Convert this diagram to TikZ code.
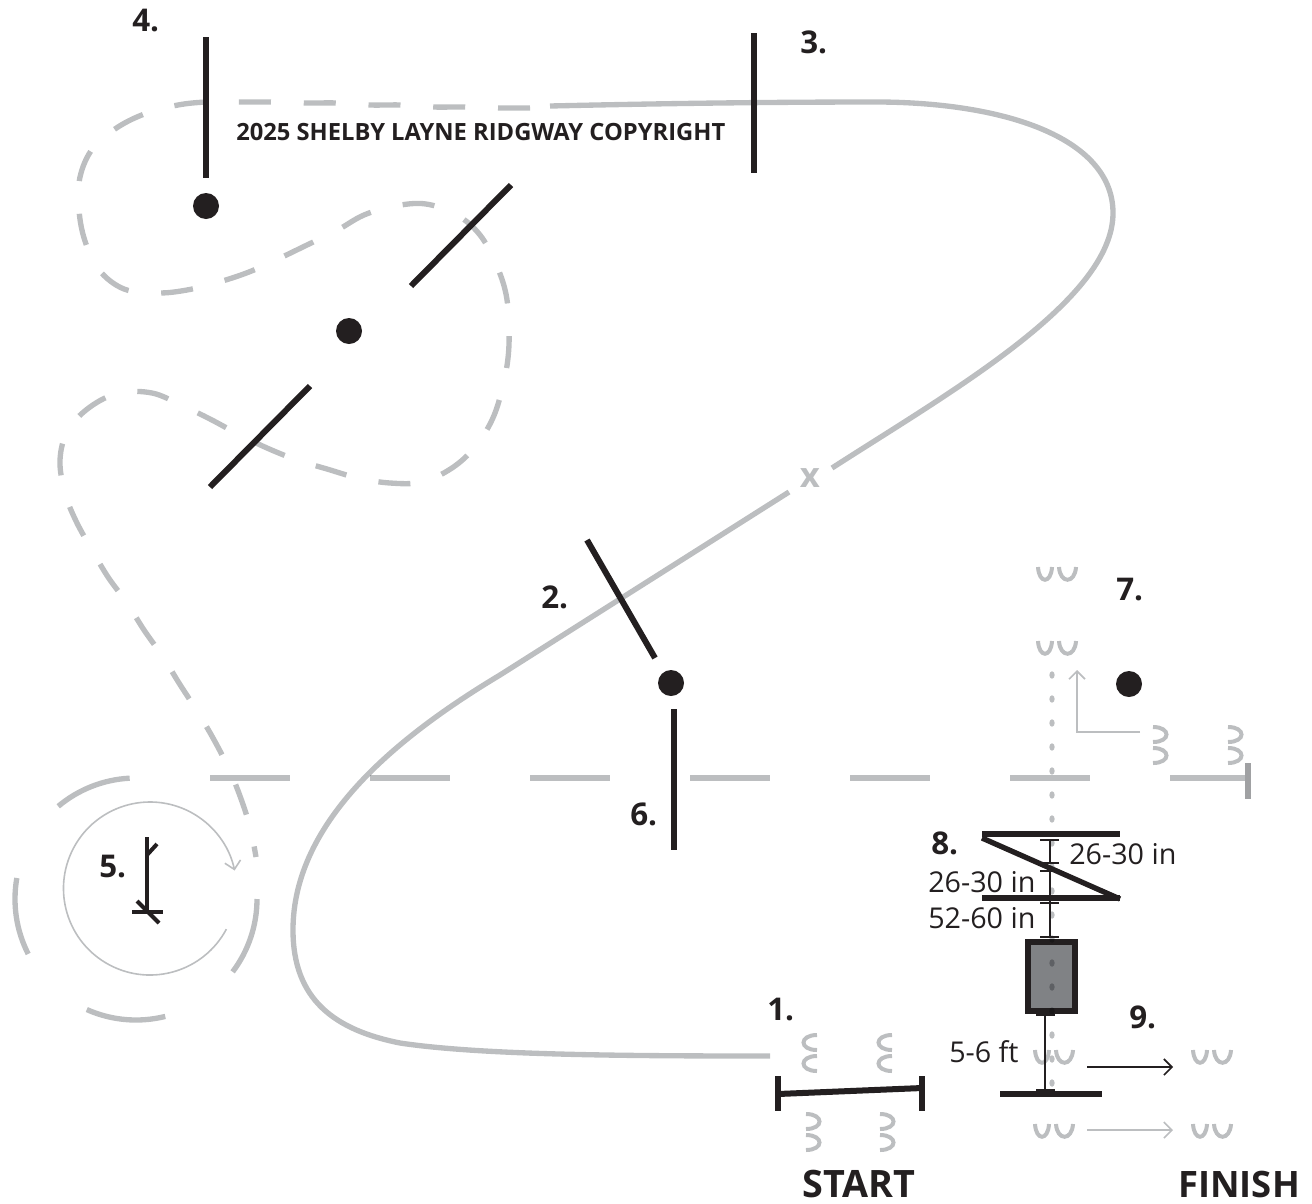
\documentclass[tikz,border=0pt]{standalone}
\usepackage{fontspec}
\setmainfont{Open Sans}
\usetikzlibrary{arrows.meta}
\definecolor{ink}{HTML}{231F20}
\definecolor{pale}{HTML}{BCBEC0}
\definecolor{boxgrey}{HTML}{808285}
\newcommand{\pxarc}[5][]{\draw[#1] ({#2+#4*cos(#5)},{#3-#4*sin(#5)})}
\tikzset{
  x=0.75pt,y=-0.75pt,
  pale line/.style={draw=pale,line width=4pt,blend mode=multiply},
  course/.style={pale line,dash pattern=on 24pt off 24.6pt},
  mark line/.style={draw=pale,line width=3pt},
  ink line/.style={draw=ink,line width=4.5pt},
  dim line/.style={draw=ink,line width=1.5pt},
  thin pale/.style={draw=pale,line width=1.2pt},
  dot/.style={circle,fill=ink,inner sep=0pt,minimum size=19.5pt},
  num/.style={font=\fontsize{23.5}{26}\selectfont\bfseries,text=ink,inner sep=0pt,anchor=base west},
  big/.style={font=\fontsize{28.3}{30}\selectfont\bfseries,text=ink,inner sep=0pt,anchor=base west},
  dimtext/.style={font=\fontsize{21.5}{24}\selectfont,text=ink,inner sep=0pt,anchor=base west},
  copy/.style={font=\fontsize{17.8}{20}\selectfont\bfseries,text=ink,inner sep=0pt,anchor=base west},
  barb/.style={-{Straight Barb[length=6pt,width=12pt,line width=1.2pt]}},
}
\newcommand{\uu}[2]{\draw[mark line] (#1,#2) .. controls (#1+1,#2+17) and (#1+13,#2+17) .. (#1+14,#2);
  \draw[mark line] (#1+21,#2) .. controls (#1+22,#2+17) and (#1+37,#2+17) .. (#1+38,#2);}
\newcommand{\cc}[2]{\draw[mark line] (#1+14,#2+1) .. controls (#1-4,#2+1) and (#1-4,#2+16) .. (#1+14,#2+16);
  \draw[mark line] (#1+14,#2+22) .. controls (#1-4,#2+22) and (#1-4,#2+37) .. (#1+14,#2+37);}
\newcommand{\dd}[2]{\draw[mark line] (#1,#2+1) .. controls (#1+18,#2+1) and (#1+18,#2+16) .. (#1,#2+16);
  \draw[mark line] (#1,#2+22) .. controls (#1+18,#2+22) and (#1+18,#2+37) .. (#1,#2+37);}
\begin{document}
\begin{tikzpicture}
\useasboundingbox (0,0) rectangle (1312,1203);
% centre-line dashes
\draw[pale line,dash pattern=on 60pt off 60pt] (210,778) -- (1248,778);
\draw[draw=pale!85!black,line width=4.5pt] (1248,763) -- (1248,799);
% solid part of the course
\draw[pale line] (770,1056) .. controls (620,1056) and (480,1055) .. (400,1043)
  .. controls (335,1030) and (293,1000) .. (293,930)
  .. controls (293,820) and (400,735) .. (500,675) -- (789,492);
\draw[pale line] (832,468) .. controls (950,392) and (1113,300) .. (1113,213)
  .. controls (1113,140) and (1010,103) .. (880,102)
  .. controls (750,102) and (640,104) .. (550,106);
% dashed part
\draw[course] plot[smooth,tension=0.6] coordinates {(530,108) (498,108) (465,107) (433,107) (402,105) (370,105) (337,103) (306,103) (273,102) (242,102) (207,102) (178,105) (147,113) (118,127) (93,148) (80,177) (79,210) (85,241) (99,270) (124,289) (157,293) (187,290) (219,282) (249,272) (278,259) (307,245) (336,231) (364,215) (395,206) (426,204) (457,215) (480,235) (496,264) (506,294) (509,327) (508,358) (502,390) (492,420) (475,447) (452,468) (422,482) (390,483) (358,478) (327,469) (297,460) (267,448) (238,434) (210,419) (181,405) (152,393) (119,393) (90,407) (68,430) (60,460) (65,493) (76,521) (92,550) (108,577) (127,603) (144,630) (163,657) (179,683) (197,711) (213,738) (228,767) (240,796) (250,827) (256,857)};
% x in the course
\node[text=pale,inner sep=0pt,font=\fontsize{26}{28}\selectfont\bfseries] (xmark) at (810,478) {x};
% circle with outer dashed arcs
\pxarc[pale line]{136}{899}{121}{93} arc[start angle=93,end angle=130,radius=90.75pt];
\pxarc[pale line]{136}{899}{121}{170} arc[start angle=170,end angle=207,radius=90.75pt];
\pxarc[pale line]{136}{899}{121}{246} arc[start angle=246,end angle=284,radius=90.75pt];
\pxarc[pale line]{136}{899}{121}{323} arc[start angle=323,end angle=360,radius=90.75pt];
\pxarc[thin pale,barb]{150}{888.5}{86.5}{-28} arc[start angle=-28,end angle=-348,radius=64.875pt];
% 5 figure
\draw[ink line,line width=3pt] (147,837) -- (147,912);
\draw[ink line,line width=3pt] (147,855) -- (157,844);
\draw[ink line,line width=3pt] (132,912) -- (163,912);
\draw[ink line,line width=3pt] (137,901) -- (159,923);
% hoof marks
\uu{1038}{567} \uu{1038}{641}
\uu{1035}{1050} \uu{1193}{1050}
\uu{1035}{1124} \uu{1193}{1124}
\cc{803}{1034} \cc{878}{1034}
\dd{806}{1113} \dd{880}{1113}
\dd{1153}{726} \dd{1228}{726}
% arrows
\draw[thin pale,barb] (1140,732) -- (1077,732) -- (1077,670);
\draw[thin pale,barb] (1087,1130) -- (1173,1130);
\draw[draw=ink,line width=1.2pt,barb] (1087,1067) -- (1173,1067);
% box
\draw[ink line,line width=4pt,fill=boxgrey] (1028,942) rectangle (1075,1011);
% dotted line
\foreach \yy in {675,699,...,1083}
  \fill[pale,blend mode=multiply] (1052,\yy) ellipse [x radius=2pt,y radius=2.8pt];
% gates
\draw[ink line] (778,1076) -- (778,1111);
\draw[ink line] (922,1076) -- (922,1111);
\draw[ink line] (778,1094) -- (922,1088);
\draw[ink line,line width=4pt] (982,834) -- (1120,834);
\draw[ink line,line width=4pt] (982,838) -- (1120,899);
\draw[ink line,line width=4pt] (982,898) -- (1120,898);
\draw[ink line,line width=4pt] (1000,1094) -- (1102,1094);
\draw[ink line] (206,37) -- (206,178);
\draw[ink line] (754,33) -- (754,173);
\draw[ink line] (511,185) -- (411,286);
\draw[ink line] (310,386) -- (210,487);
\draw[ink line] (587,540) -- (655,658);
\draw[ink line] (674,709) -- (674,850);
\node[dot] (d4) at (206,206) {};
\node[dot] (d1) at (349,331) {};
\node[dot] (d2) at (671,683) {};
\node[dot] (d7) at (1129,684) {};
% dimensions
\draw[dim line] (1040,840) -- (1059,840) (1050,840) -- (1050,863) (1040,863) -- (1059,863);
\draw[dim line] (1040,871) -- (1059,871) (1050,871) -- (1050,896) (1040,896) -- (1059,896);
\draw[dim line] (1050,896) -- (1050,937) (1040,903) -- (1059,903) (1040,937) -- (1059,937);
\draw[dim line] (1036,1015) -- (1055,1015) (1045,1015) -- (1045,1090) (1036,1090) -- (1055,1090);
% labels
\node[num] (n1) at (767,1020) {1.};
\node[num] (n2) at (541,608) {2.};
\node[num] (n3) at (800,53) {3.};
\node[num] (n4) at (132,31) {4.};
\node[num] (n5) at (99,877) {5.};
\node[num] (n6) at (630,825) {6.};
\node[num] (n7) at (1116,600) {7.};
\node[num] (n8) at (931,854) {8.};
\node[num] (n9) at (1129,1028) {9.};
\node[big] (start) at (802,1197) {START};
\node[big,font=\fontsize{27.3}{30}\selectfont\bfseries] (finish) at (1178,1197) {FINISH};
\node[copy] (c) at (236,140) {2025 SHELBY LAYNE RIDGWAY COPYRIGHT};
\node[dimtext] (a) at (1069,864) {26-30 in};
\node[dimtext] (b) at (928,892) {26-30 in};
\node[dimtext] (e) at (928,928) {52-60 in};
\node[dimtext] (f) at (949,1062) {5-6 ft};
\end{tikzpicture}
\end{document}
